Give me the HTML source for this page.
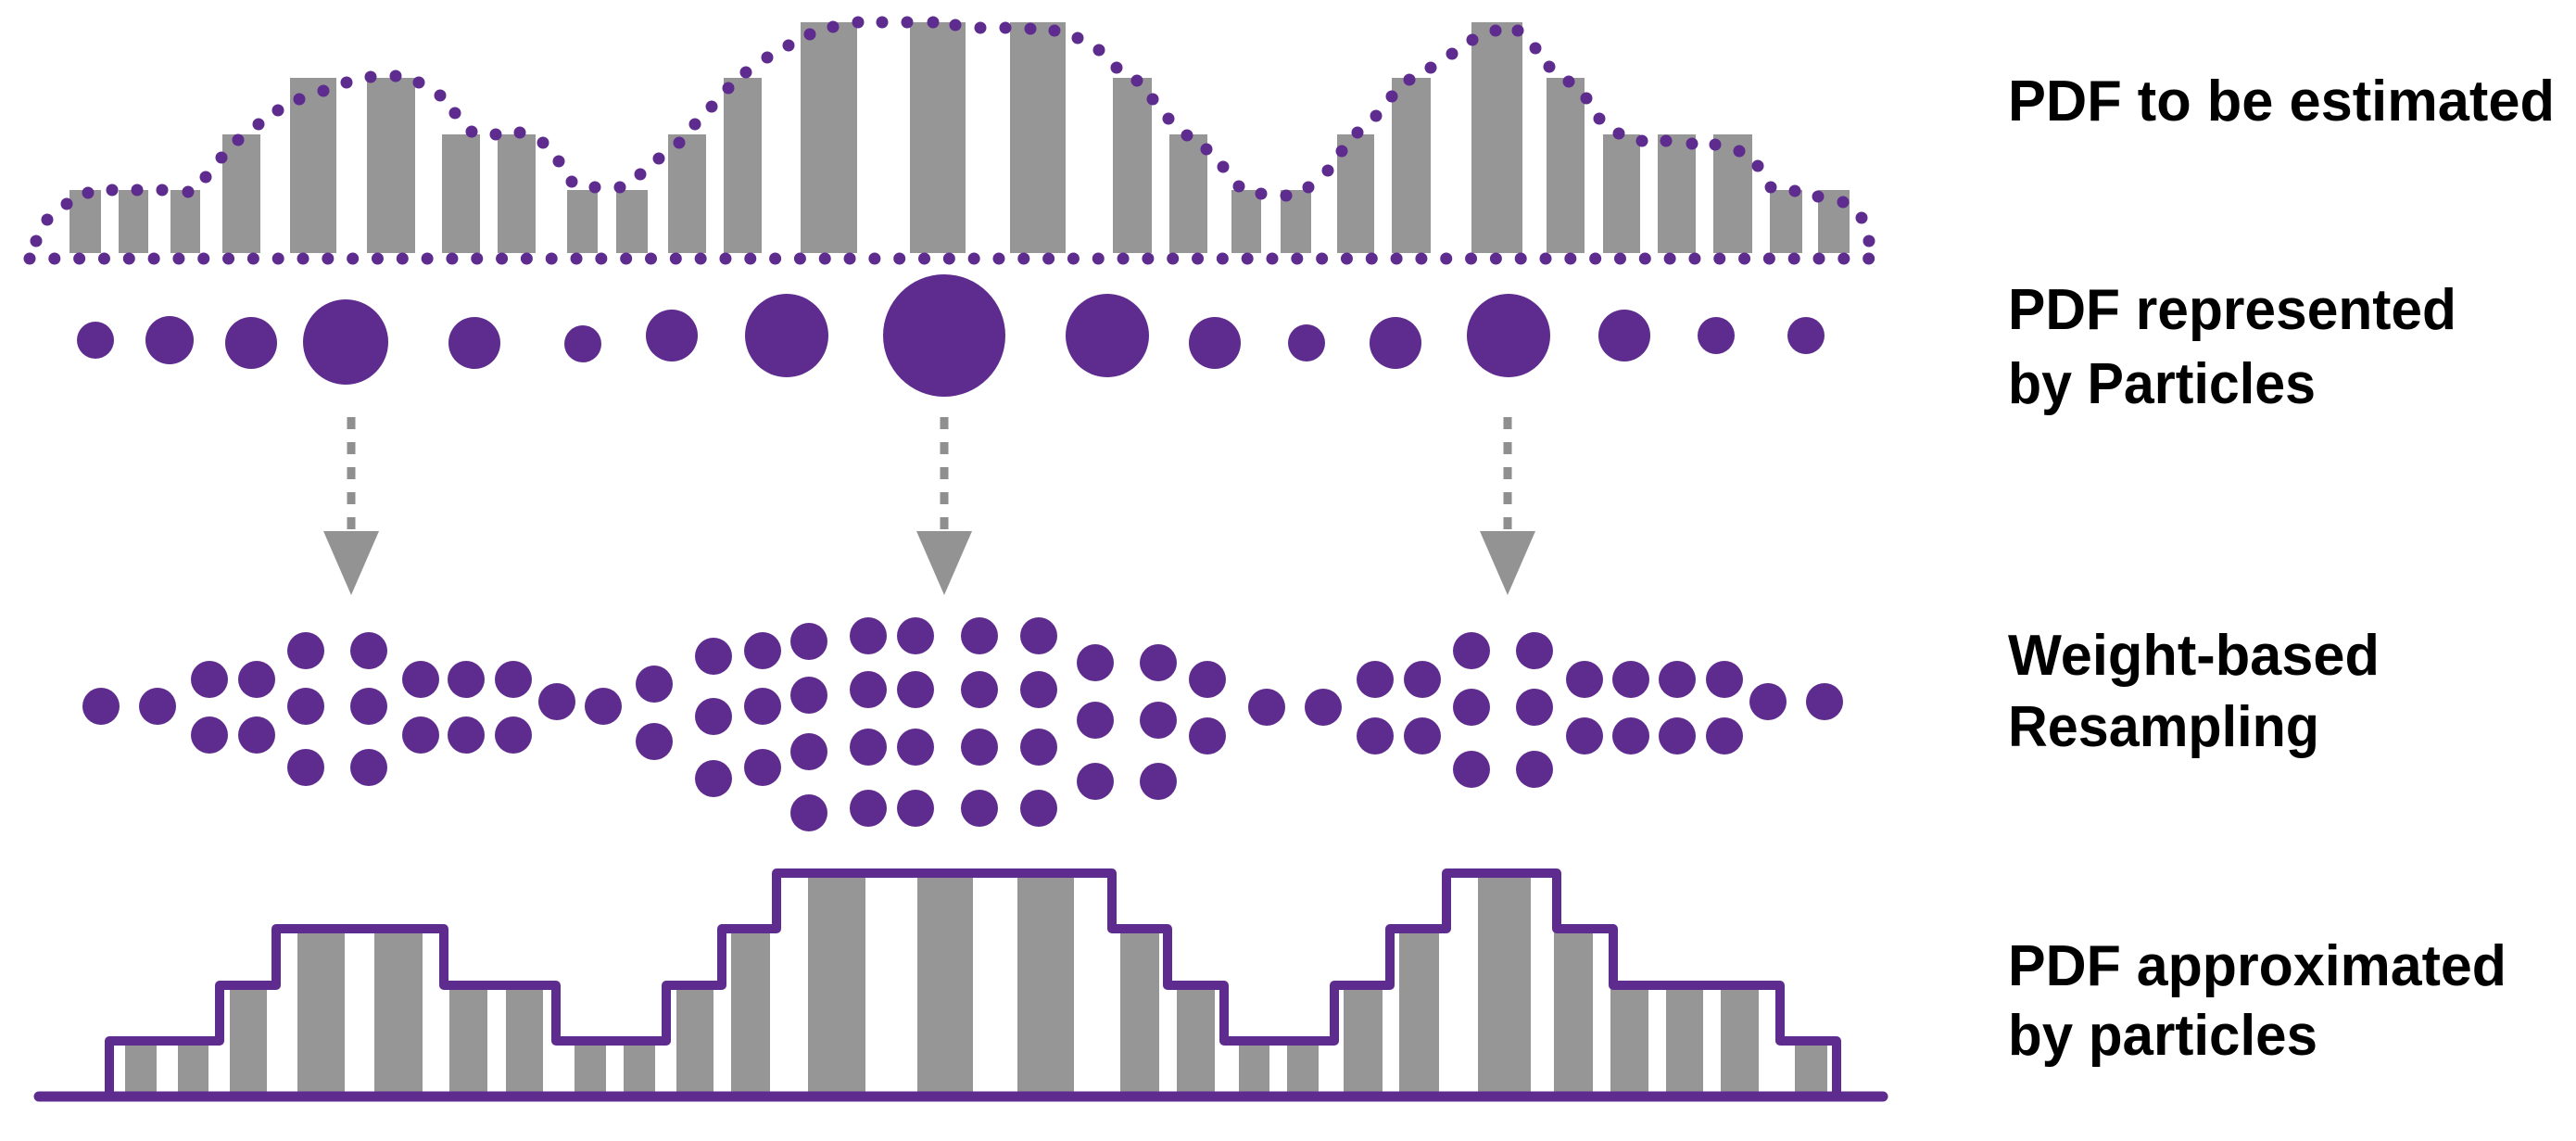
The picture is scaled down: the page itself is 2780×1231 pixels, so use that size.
<!DOCTYPE html>
<html><head><meta charset="utf-8"><style>
html,body{margin:0;padding:0;background:#fff;}
svg{display:block;}
text{font-family:"Liberation Sans",sans-serif;font-weight:bold;font-size:62px;fill:#000;}
</style></head><body>
<svg width="2780" height="1231" viewBox="0 0 2780 1231" xmlns="http://www.w3.org/2000/svg">
<g fill="#969696">
<rect x="75" y="205" width="34" height="68"/>
<rect x="128" y="205" width="32" height="68"/>
<rect x="184" y="205" width="32" height="68"/>
<rect x="240" y="145" width="41" height="128"/>
<rect x="313" y="84" width="50" height="189"/>
<rect x="396" y="84" width="52" height="189"/>
<rect x="477" y="145" width="41" height="128"/>
<rect x="537" y="145" width="41" height="128"/>
<rect x="612" y="205" width="33" height="68"/>
<rect x="665" y="205" width="34" height="68"/>
<rect x="721" y="145" width="41" height="128"/>
<rect x="781" y="84" width="41" height="189"/>
<rect x="864" y="24" width="61" height="249"/>
<rect x="982" y="24" width="60" height="249"/>
<rect x="1090" y="24" width="60" height="249"/>
<rect x="1201" y="84" width="42" height="189"/>
<rect x="1262" y="145" width="41" height="128"/>
<rect x="1329" y="205" width="32" height="68"/>
<rect x="1382" y="205" width="33" height="68"/>
<rect x="1443" y="145" width="40" height="128"/>
<rect x="1502" y="84" width="42" height="189"/>
<rect x="1588" y="24" width="55" height="249"/>
<rect x="1669" y="84" width="41" height="189"/>
<rect x="1730" y="145" width="40" height="128"/>
<rect x="1789" y="145" width="41" height="128"/>
<rect x="1849" y="145" width="42" height="128"/>
<rect x="1910" y="205" width="35" height="68"/>
<rect x="1962" y="205" width="34" height="68"/>
</g>
<g fill="#5E2B8E">
<circle cx="39" cy="260" r="6.5"/><circle cx="51" cy="237" r="6.5"/><circle cx="72" cy="220" r="6.5"/><circle cx="95" cy="208" r="6.5"/><circle cx="121" cy="205" r="6.5"/><circle cx="148" cy="205" r="6.5"/><circle cx="175" cy="205" r="6.5"/><circle cx="203" cy="207" r="6.5"/><circle cx="222" cy="191" r="6.5"/><circle cx="239" cy="170" r="6.5"/><circle cx="257" cy="151" r="6.5"/><circle cx="279" cy="134" r="6.5"/><circle cx="300" cy="119" r="6.5"/><circle cx="323" cy="107" r="6.5"/><circle cx="349" cy="98" r="6.5"/><circle cx="374" cy="89" r="6.5"/><circle cx="400" cy="83" r="6.5"/><circle cx="427" cy="82" r="6.5"/><circle cx="452" cy="89" r="6.5"/><circle cx="475" cy="103" r="6.5"/><circle cx="491" cy="122" r="6.5"/><circle cx="509" cy="142" r="6.5"/><circle cx="535" cy="145" r="6.5"/><circle cx="561" cy="143" r="6.5"/><circle cx="586" cy="154" r="6.5"/><circle cx="603" cy="174" r="6.5"/><circle cx="617" cy="196" r="6.5"/><circle cx="642" cy="202" r="6.5"/><circle cx="669" cy="202" r="6.5"/><circle cx="691" cy="188" r="6.5"/><circle cx="711" cy="171" r="6.5"/><circle cx="733" cy="154" r="6.5"/><circle cx="750" cy="134" r="6.5"/><circle cx="768" cy="115" r="6.5"/><circle cx="786" cy="95" r="6.5"/><circle cx="805" cy="78" r="6.5"/><circle cx="828" cy="62" r="6.5"/><circle cx="851" cy="49" r="6.5"/><circle cx="874" cy="37" r="6.5"/><circle cx="899" cy="29" r="6.5"/><circle cx="926" cy="24" r="6.5"/><circle cx="952" cy="24" r="6.5"/><circle cx="979" cy="24" r="6.5"/><circle cx="1007" cy="24" r="6.5"/><circle cx="1031" cy="27" r="6.5"/><circle cx="1058" cy="30" r="6.5"/><circle cx="1085" cy="30" r="6.5"/><circle cx="1112" cy="31" r="6.5"/><circle cx="1138" cy="33" r="6.5"/><circle cx="1163" cy="41" r="6.5"/><circle cx="1186" cy="54" r="6.5"/><circle cx="1205" cy="73" r="6.5"/><circle cx="1227" cy="87" r="6.5"/><circle cx="1244" cy="107" r="6.5"/><circle cx="1261" cy="128" r="6.5"/><circle cx="1281" cy="146" r="6.5"/><circle cx="1302" cy="161" r="6.5"/><circle cx="1320" cy="180" r="6.5"/><circle cx="1337" cy="201" r="6.5"/><circle cx="1361" cy="209" r="6.5"/><circle cx="1388" cy="211" r="6.5"/><circle cx="1412" cy="202" r="6.5"/><circle cx="1433" cy="184" r="6.5"/><circle cx="1448" cy="163" r="6.5"/><circle cx="1465" cy="143" r="6.5"/><circle cx="1485" cy="125" r="6.5"/><circle cx="1502" cy="104" r="6.5"/><circle cx="1521" cy="86" r="6.5"/><circle cx="1544" cy="73" r="6.5"/><circle cx="1567" cy="58" r="6.5"/><circle cx="1589" cy="43" r="6.5"/><circle cx="1614" cy="33" r="6.5"/><circle cx="1638" cy="33" r="6.5"/><circle cx="1657" cy="52" r="6.5"/><circle cx="1672" cy="72" r="6.5"/><circle cx="1693" cy="88" r="6.5"/><circle cx="1712" cy="106" r="6.5"/><circle cx="1726" cy="128" r="6.5"/><circle cx="1747" cy="144" r="6.5"/><circle cx="1772" cy="152" r="6.5"/><circle cx="1798" cy="152" r="6.5"/><circle cx="1826" cy="155" r="6.5"/><circle cx="1851" cy="156" r="6.5"/><circle cx="1877" cy="163" r="6.5"/><circle cx="1897" cy="179" r="6.5"/><circle cx="1911" cy="202" r="6.5"/><circle cx="1937" cy="206" r="6.5"/><circle cx="1962" cy="212" r="6.5"/><circle cx="1989" cy="218" r="6.5"/><circle cx="2009" cy="235" r="6.5"/><circle cx="2017" cy="260" r="6.5"/>
</g>
<line x1="32" y1="279" x2="2018" y2="279" stroke="#5E2B8E" stroke-width="13" stroke-linecap="round" stroke-dasharray="0 26.82"/>
<g fill="#5E2B8E">
<circle cx="103" cy="367" r="20"/><circle cx="183" cy="367" r="26"/><circle cx="271" cy="370" r="28"/><circle cx="373" cy="369" r="46"/><circle cx="512" cy="370" r="28"/><circle cx="629" cy="371" r="20"/><circle cx="725" cy="362" r="28"/><circle cx="849" cy="362" r="45"/><circle cx="1019" cy="362" r="66"/><circle cx="1195" cy="362" r="45"/><circle cx="1311" cy="370" r="28"/><circle cx="1410" cy="370" r="20"/><circle cx="1506" cy="370" r="28"/><circle cx="1628" cy="362" r="45"/><circle cx="1753" cy="362" r="28"/><circle cx="1852" cy="362" r="20"/><circle cx="1949" cy="362" r="20"/>
</g>
<g stroke="#8f8f8f" stroke-width="9" stroke-dasharray="13 14">
<line x1="379" y1="450" x2="379" y2="575"/><line x1="1019" y1="450" x2="1019" y2="575"/><line x1="1627" y1="450" x2="1627" y2="575"/>
</g>
<g fill="#939393">
<polygon points="349,573 409,573 379,642"/><polygon points="989,573 1049,573 1019,642"/><polygon points="1597,573 1657,573 1627,642"/>
</g>
<g fill="#5E2B8E">
<circle cx="109" cy="762" r="20"/><circle cx="170" cy="762" r="20"/>
<circle cx="226" cy="733" r="20"/><circle cx="226" cy="793" r="20"/><circle cx="277" cy="733" r="20"/><circle cx="277" cy="793" r="20"/>
<circle cx="330" cy="702" r="20"/><circle cx="330" cy="762" r="20"/><circle cx="330" cy="828" r="20"/>
<circle cx="398" cy="702" r="20"/><circle cx="398" cy="762" r="20"/><circle cx="398" cy="828" r="20"/>
<circle cx="454" cy="733" r="20"/><circle cx="454" cy="793" r="20"/><circle cx="503" cy="733" r="20"/><circle cx="503" cy="793" r="20"/><circle cx="554" cy="733" r="20"/><circle cx="554" cy="793" r="20"/>
<circle cx="601" cy="757" r="20"/><circle cx="651" cy="762" r="20"/>
<circle cx="706" cy="738" r="20"/><circle cx="706" cy="800" r="20"/>
<circle cx="770" cy="708" r="20"/><circle cx="770" cy="773" r="20"/><circle cx="770" cy="840" r="20"/>
<circle cx="823" cy="702" r="20"/><circle cx="823" cy="762" r="20"/><circle cx="823" cy="828" r="20"/>
<circle cx="873" cy="692" r="20"/><circle cx="873" cy="750" r="20"/><circle cx="873" cy="811" r="20"/><circle cx="873" cy="877" r="20"/>
<circle cx="937" cy="686" r="20"/><circle cx="937" cy="744" r="20"/><circle cx="937" cy="806" r="20"/><circle cx="937" cy="872" r="20"/>
<circle cx="988" cy="686" r="20"/><circle cx="988" cy="744" r="20"/><circle cx="988" cy="806" r="20"/><circle cx="988" cy="872" r="20"/>
<circle cx="1057" cy="686" r="20"/><circle cx="1057" cy="744" r="20"/><circle cx="1057" cy="806" r="20"/><circle cx="1057" cy="872" r="20"/>
<circle cx="1121" cy="686" r="20"/><circle cx="1121" cy="744" r="20"/><circle cx="1121" cy="806" r="20"/><circle cx="1121" cy="872" r="20"/>
<circle cx="1182" cy="715" r="20"/><circle cx="1182" cy="777" r="20"/><circle cx="1182" cy="843" r="20"/>
<circle cx="1250" cy="715" r="20"/><circle cx="1250" cy="777" r="20"/><circle cx="1250" cy="843" r="20"/>
<circle cx="1303" cy="733" r="20"/><circle cx="1303" cy="794" r="20"/>
<circle cx="1367" cy="763" r="20"/><circle cx="1428" cy="763" r="20"/>
<circle cx="1484" cy="733" r="20"/><circle cx="1484" cy="794" r="20"/><circle cx="1535" cy="733" r="20"/><circle cx="1535" cy="794" r="20"/>
<circle cx="1588" cy="702" r="20"/><circle cx="1588" cy="763" r="20"/><circle cx="1588" cy="830" r="20"/>
<circle cx="1656" cy="702" r="20"/><circle cx="1656" cy="763" r="20"/><circle cx="1656" cy="830" r="20"/>
<circle cx="1710" cy="733" r="20"/><circle cx="1710" cy="794" r="20"/><circle cx="1760" cy="733" r="20"/><circle cx="1760" cy="794" r="20"/>
<circle cx="1810" cy="733" r="20"/><circle cx="1810" cy="794" r="20"/><circle cx="1861" cy="733" r="20"/><circle cx="1861" cy="794" r="20"/>
<circle cx="1908" cy="757" r="20"/><circle cx="1969" cy="757" r="20"/>
</g>
<g fill="#969696">
<rect x="135" y="1126" width="34" height="52"/>
<rect x="192" y="1126" width="33" height="52"/>
<rect x="248" y="1066" width="40" height="112"/>
<rect x="321" y="1005" width="51" height="173"/>
<rect x="404" y="1005" width="52" height="173"/>
<rect x="485" y="1066" width="41" height="112"/>
<rect x="546" y="1066" width="40" height="112"/>
<rect x="620" y="1126" width="34" height="52"/>
<rect x="673" y="1126" width="34" height="52"/>
<rect x="730" y="1066" width="40" height="112"/>
<rect x="789" y="1005" width="42" height="173"/>
<rect x="872" y="945" width="62" height="233"/>
<rect x="990" y="945" width="60" height="233"/>
<rect x="1098" y="945" width="61" height="233"/>
<rect x="1209" y="1005" width="42" height="173"/>
<rect x="1270" y="1066" width="41" height="112"/>
<rect x="1337" y="1126" width="33" height="52"/>
<rect x="1389" y="1126" width="34" height="52"/>
<rect x="1450" y="1066" width="42" height="112"/>
<rect x="1510" y="1005" width="43" height="173"/>
<rect x="1595" y="945" width="57" height="233"/>
<rect x="1677" y="1005" width="42" height="173"/>
<rect x="1738" y="1066" width="41" height="112"/>
<rect x="1798" y="1066" width="40" height="112"/>
<rect x="1857" y="1066" width="41" height="112"/>
<rect x="1937" y="1126" width="35" height="52"/>
</g>
<path d="M118,1183 V1123 H237 V1063 H298 V1002 H479 V1063 H600 V1123 H719 V1063 H779 V1002 H838 V942 H1200 V1002 H1260 V1063 H1321 V1123 H1440 V1063 H1500 V1002 H1561 V942 H1680 V1002 H1741 V1063 H1921 V1123 H1982 V1183" fill="none" stroke="#5E2B8E" stroke-width="10" stroke-linejoin="round"/>
<line x1="42" y1="1183" x2="2032" y2="1183" stroke="#5E2B8E" stroke-width="11" stroke-linecap="round"/>
<text x="2167" y="130" textLength="590" lengthAdjust="spacingAndGlyphs">PDF to be estimated</text>
<text x="2167" y="355" textLength="484" lengthAdjust="spacingAndGlyphs">PDF represented</text>
<text x="2167" y="435" textLength="332" lengthAdjust="spacingAndGlyphs">by Particles</text>
<text x="2167" y="728" textLength="401" lengthAdjust="spacingAndGlyphs">Weight-based</text>
<text x="2167" y="805" textLength="336" lengthAdjust="spacingAndGlyphs">Resampling</text>
<text x="2167" y="1063" textLength="538" lengthAdjust="spacingAndGlyphs">PDF approximated</text>
<text x="2167" y="1138" textLength="334" lengthAdjust="spacingAndGlyphs">by particles</text>
</svg>
</body></html>
